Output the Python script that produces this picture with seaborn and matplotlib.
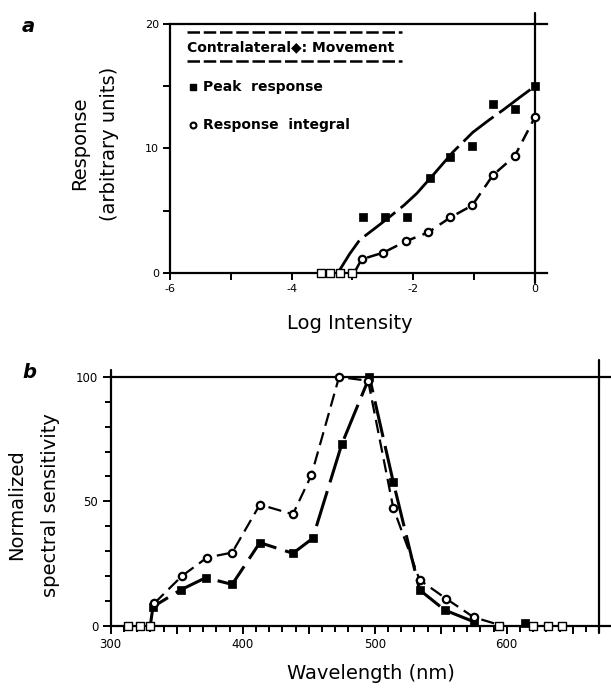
import matplotlib
matplotlib.use("Agg")
import matplotlib.pyplot as plt
import seaborn as sns
import numpy as np
import pandas as pd

# ---------------- data: panel a ----------------
log_int = [-2.82, -2.46, -2.10, -1.73, -1.39, -1.03, -0.69, -0.33, 0.0]
peak_resp = [4.46, 4.46, 4.46, 7.63, 9.33, 10.2, 13.6, 13.2, 15.0]
integ_x = [-2.85, -2.49, -2.12, -1.75, -1.39, -1.03, -0.69, -0.33, 0.0]
integ_resp = [1.1, 1.64, 2.55, 3.27, 4.46, 5.43, 7.85, 9.4, 12.5]
zero_a_x = [-3.52, -3.37, -3.20, -3.0]
zero_a_y = [0, 0, 0, 0]
# fitted curves
peak_fit_x = [-3.24, -3.05, -2.88, -2.6, -2.38, -2.15, -1.94, -1.65, -1.35, -1.02, -0.75, -0.52, -0.25, 0.0]
peak_fit_y = [0.0, 1.5, 2.66, 3.7, 4.54, 5.45, 6.4, 8.0, 9.7, 11.3, 12.3, 13.1, 14.1, 15.0]
integ_fit_x = [-2.96, -2.85, -2.49, -2.12, -1.75, -1.39, -1.03, -0.69, -0.33, 0.0]
integ_fit_y = [0.1, 1.1, 1.64, 2.55, 3.27, 4.46, 5.43, 7.85, 9.4, 12.5]

# ---------------- data: panel b ----------------
wl_sq = [330, 332, 353, 372, 392, 413, 438, 453, 475, 496, 514, 534, 553, 575]
val_sq = [0, 7.6, 14.4, 19.3, 16.6, 33.4, 29.1, 35.1, 72.9, 100, 57.9, 14.4, 6.3, 1.6]
wl_ci = [333, 354, 373, 392, 413, 438, 452, 473, 495, 514, 534, 554, 575, 594]
val_ci = [9.0, 20.0, 27.4, 29.4, 48.7, 44.8, 60.5, 100, 98.5, 47.5, 18.4, 10.9, 3.4, 0.4]
zero_b_left = [313, 322, 330]
zero_b_right = [594, 620, 631, 642]
extra_sq_x = [614]
extra_sq_y = [1.0]

sns.set_theme(style="ticks")
plt.rcParams['font.family'] = ['DejaVu Sans']
plt.rcParams['axes.linewidth'] = 1.6
plt.rcParams['xtick.major.width'] = 1.4
plt.rcParams['ytick.major.width'] = 1.4
plt.rcParams['xtick.minor.width'] = 1.4
plt.rcParams['ytick.minor.width'] = 1.4
for k in ['text.color', 'axes.labelcolor', 'xtick.color', 'ytick.color', 'axes.edgecolor']:
    plt.rcParams[k] = 'black'

fig = plt.figure(figsize=(6.11, 6.90), dpi=100)

W, H = 611, 690
def axrect(x0, x1, ytop, ybot):
    return [x0 / W, 1 - ybot / H, (x1 - x0) / W, (ybot - ytop) / H]

# ================= panel a =================
ax = fig.add_axes(axrect(170, 547, 24, 273))
ax.set_xlim(-6, 0.2)
ax.set_ylim(0, 20)

sns.lineplot(x=peak_fit_x, y=peak_fit_y, ax=ax, color='black', lw=2.0,
             linestyle=(0, (14, 2.5)), sort=False, estimator=None)
sns.lineplot(x=integ_fit_x, y=integ_fit_y, ax=ax, color='black', lw=1.8,
             linestyle=(0, (5, 3)), sort=False, estimator=None)
ax.plot(zero_a_x, zero_a_y, color='black', lw=1.2, clip_on=False, zorder=3)
sns.scatterplot(x=log_int, y=peak_resp, ax=ax, marker='s', color='black',
                s=40, edgecolor='black', zorder=5, clip_on=False)
sns.scatterplot(x=integ_x, y=integ_resp, ax=ax, marker='o', facecolor='white',
                s=28, edgecolor='black', linewidth=1.6, zorder=5, clip_on=False)
sns.scatterplot(x=zero_a_x, y=zero_a_y, ax=ax, marker='s', facecolor='white',
                s=28, edgecolor='black', linewidth=1.0, zorder=6, clip_on=False)

sns.despine(ax=ax, right=True, top=False)
ax.spines['bottom'].set_position(('data', 0))
ax.plot([0, 0], [-0.8, 20.9], color='black', lw=1.6, clip_on=False)

ax.set_xticks([-6, -5, -4, -3, -2, -1, 0])
ax.set_xticklabels(['-6', '', '-4', '', '-2', '', '0'])
ax.set_yticks([0, 5, 10, 15, 20])
ax.set_yticklabels(['0', '', '10', '', '20'])
ax.tick_params(axis='both', direction='out', length=5, labelsize=8, pad=3, colors='black')

ax.set_xlabel('Log Intensity', fontsize=14, color='black')
ax.xaxis.set_label_coords(0.477, -0.165)
ax.set_ylabel('Response\n(arbitrary units)', fontsize=14, linespacing=1.75, color='black')
ax.yaxis.set_label_coords(-0.135, 0.52)

# legend-like annotation
ax.plot([-5.72, -2.19], [19.35, 19.35], color='black', lw=1.8, linestyle=(0, (5, 1.5)))
ax.plot([-5.72, -2.19], [17.0, 17.0], color='black', lw=1.8, linestyle=(0, (5, 1.5)))
ax.text(-5.72, 18.15, 'Contralateral\u25C6: Movement', fontsize=10, fontweight='bold',
        ha='left', va='center', color='black')
ax.scatter([-5.62], [14.9], marker='s', color='black', s=22)
ax.text(-5.46, 14.9, 'Peak  response', fontsize=10, fontweight='bold', ha='left',
        va='center', color='black')
ax.scatter([-5.62], [11.85], marker='o', facecolor='white', edgecolor='black', s=18, linewidth=1.5)
ax.text(-5.46, 11.85, 'Response  integral', fontsize=10, fontweight='bold', ha='left',
        va='center', color='black')

fig.text(22 / W, 1 - 26 / H, 'a', fontsize=14, fontweight='bold', style='italic',
         ha='left', va='center', color='black')

# ================= panel b =================
bx = fig.add_axes(axrect(110.7, 611, 377, 625.7))
bx.set_xlim(300, 679)
bx.set_ylim(0, 100)

sns.lineplot(x=wl_ci, y=val_ci, ax=bx, color='black', lw=1.6,
             linestyle=(0, (6, 3)), sort=False, estimator=None, zorder=3)
sns.lineplot(x=wl_sq, y=val_sq, ax=bx, color='black', lw=2.2,
             linestyle=(0, (12, 3)), sort=False, estimator=None, zorder=3)
bx.plot(zero_b_left, [0] * len(zero_b_left), color='black', lw=1.2, zorder=3, clip_on=False)
bx.plot(zero_b_right, [0] * len(zero_b_right), color='black', lw=1.2, zorder=3, clip_on=False)
sns.scatterplot(x=wl_sq[1:], y=val_sq[1:], ax=bx, marker='s', color='black',
                s=40, edgecolor='black', zorder=5, clip_on=False)
sns.scatterplot(x=extra_sq_x, y=extra_sq_y, ax=bx, marker='s', color='black',
                s=40, edgecolor='black', zorder=5, clip_on=False)
sns.scatterplot(x=wl_ci[:-1], y=val_ci[:-1], ax=bx, marker='o', facecolor='white',
                s=28, edgecolor='black', linewidth=1.6, zorder=6, clip_on=False)
sns.scatterplot(x=zero_b_left + zero_b_right, y=[0] * 7, ax=bx, marker='s',
                facecolor='white', s=28, edgecolor='black', linewidth=1.0, zorder=6,
                clip_on=False)

sns.despine(ax=bx, right=True, top=False)
bx.plot([670, 670], [-3, 107], color='black', lw=1.6, clip_on=False)
bx.plot([300, 300], [100, 103], color='black', lw=1.6, clip_on=False)

bx.set_xticks(np.arange(300, 671, 50))
bx.set_xticklabels(['300', '', '400', '', '500', '', '600', ''])
bx.set_xticks(np.arange(310, 671, 10), minor=True)
bx.set_yticks([0, 50, 100])
bx.set_yticklabels(['0', '50', '100'])
bx.set_yticks(np.arange(0, 101, 10), minor=True)
bx.tick_params(axis='both', which='major', direction='out', length=6, labelsize=8.5, pad=3,
               colors='black')
bx.tick_params(axis='both', which='minor', direction='out', length=4, colors='black')

bx.set_xlabel('Wavelength (nm)', fontsize=14, color='black')
bx.xaxis.set_label_coords(0.52, -0.155)
bx.set_ylabel('Normalized\nspectral sensitivity', fontsize=14, linespacing=2.0, color='black')
bx.yaxis.set_label_coords(-0.102, 0.485)

fig.text(22 / W, 1 - 372 / H, 'b', fontsize=14, fontweight='bold', style='italic',
         ha='left', va='center', color='black')

fig.savefig('out.png', dpi=100)
